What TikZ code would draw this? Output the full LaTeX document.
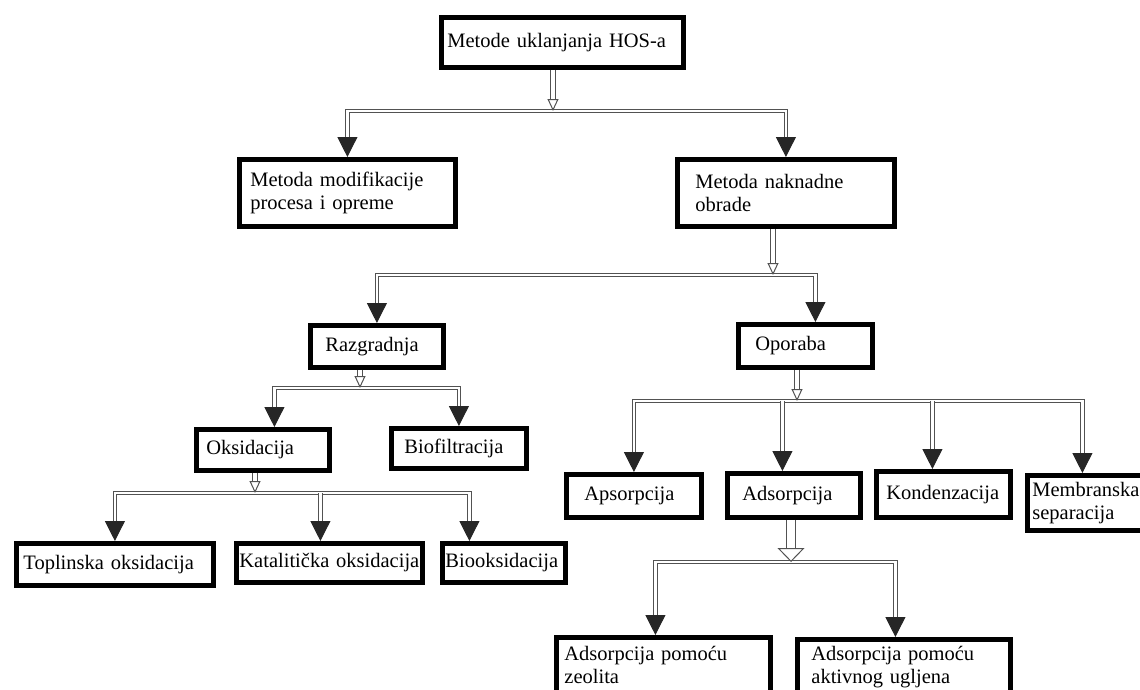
\documentclass[tikz,border=0pt]{standalone}
\usepackage{fontspec}
\setmainfont{Liberation Serif}
\usetikzlibrary{positioning,arrows.meta}

\tikzset{
  box/.style={draw,line width=4.8pt,anchor=north west,align=left,inner ysep=0pt,font=\fontsize{20.5}{23}\selectfont},
  link/.style={draw=black!68,double=white,double distance=2.4pt,line width=1pt},
  drop/.style={link,-{Triangle[length=20pt,width=20pt,color=black!85]}},
  ends/.style={link,{Triangle[length=20pt,width=20pt,color=black!85]}-{Triangle[length=20pt,width=20pt,color=black!85]}},
  hollow/.style={link,double distance=4pt,-{Triangle[open,length=12pt,width=11pt]}},
}

\begin{document}
\begin{tikzpicture}[x=1pt,y=-1pt]
    \useasboundingbox (0,0) rectangle (1140,689);
    \clip (0,0) rectangle (1140,689);

    % boxes
    \node[box,text width=230pt,inner xsep=6pt,minimum height=50pt] (hos) at (439,15) {Metode uklanjanja HOS-a};
    \node[box,text width=194pt,inner xsep=11pt,minimum height=67pt] (mod) at (237,157) {Metoda modifikacije\\procesa i opreme};
    \node[box,text width=181pt,inner xsep=18pt,minimum height=67pt] (nak) at (675,157) {Metoda naknadne\\obrade};
    \node[box,text width=103pt,inner xsep=15pt,minimum height=42pt] (raz) at (308,323) {Razgradnja};
    \node[box,text width=100pt,inner xsep=17pt,minimum height=43pt] (opo) at (736,322) {Oporaba};
    \node[box,text width=113pt,inner xsep=10pt,minimum height=41pt] (oks) at (194,427) {Oksidacija};
    \node[box,text width=109pt,inner xsep=13pt,minimum height=40pt] (bio) at (389,426) {Biofiltracija};
    \node[box,text width=183pt,inner xsep=7pt,minimum height=42pt] (tok) at (14,541) {Toplinska oksidacija};
    \node[box,text width=180pt,inner xsep=3pt,minimum height=39pt] (kat) at (234,541) {Katalitička oksidacija};
    \node[box,text width=117pt,inner xsep=3pt,minimum height=39pt] (bok) at (440,541) {Biooksidacija};
    \node[box,text width=99pt,inner xsep=18pt,minimum height=43pt] (aps) at (564,472) {Apsorpcija};
    \node[box,text width=103pt,inner xsep=15pt,minimum height=44pt] (ads) at (725,471) {Adsorpcija};
    \node[box,text width=114pt,inner xsep=10pt,minimum height=46pt] (kon) at (874,469) {Kondenzacija};
    \node[box,text width=113pt,inner xsep=5pt,minimum height=55pt] (mem) at (1025,473) {Membranska\\separacija};
    \node[box,text width=198pt,inner xsep=8pt,minimum height=56pt] (zeo) at (554,635) {Adsorpcija pomoću\\zeolita};
    \node[box,text width=185pt,inner xsep=14pt,minimum height=56pt] (akt) at (795,637) {Adsorpcija pomoću\\aktivnog ugljena};

    % junctions
    \coordinate (b1) at (553,111);
    \coordinate (b2) at (773,275);
    \coordinate (b3) at (360,388);
    \coordinate (b4) at (255,493);
    \coordinate (b5) at (797,401);
    \coordinate (b6) at (791,562);
    \coordinate (opo-in) at ([xshift=10pt]opo.north);
    \coordinate (oks-in) at ([xshift=11.5pt]oks.north);
    \coordinate (kat-in) at ([xshift=-9pt]kat.north);
    \coordinate (bok-in) at ([xshift=-34.5pt]bok.north);
    \coordinate (ads-in) at ([xshift=-11.5pt]ads.north);
    \coordinate (kon-in) at ([xshift=-11pt]kon.north);
    \coordinate (mem-in) at ([xshift=-6.5pt]mem.north);
    \coordinate (zeo-in) at ([xshift=-8pt]zeo.north);
    \coordinate (akt-in) at ([xshift=-8.5pt]akt.north);

    % connectors
    \draw[ends] (mod.north) -- (mod.north |- b1) -- (nak.north |- b1) -- (nak.north);
    \draw[hollow] (hos.south -| b1) -- (b1);

    \draw[ends] (raz.north) -- (raz.north |- b2) -- (opo-in |- b2) -- (opo-in);
    \draw[hollow] (nak.south -| b2) -- (b2);

    \draw[ends] (oks-in) -- (oks-in |- b3) -- (bio.north |- b3) -- (bio.north);
    \draw[hollow] (raz.south -| b3) -- (b3);

    \draw[ends] (tok.north) -- (tok.north |- b4) -- (bok-in |- b4) -- (bok-in);
    \draw[drop] (kat-in |- b4) -- (kat-in);
    \draw[hollow] (oks.south -| b4) -- (b4);

    \draw[ends] (aps.north) -- (aps.north |- b5) -- (mem-in |- b5) -- (mem-in);
    \draw[drop] (ads-in |- b5) -- (ads-in);
    \draw[drop] (kon-in |- b5) -- (kon-in);
    \draw[hollow] (opo.south -| b5) -- (b5);

    \draw[ends] (zeo-in) -- (zeo-in |- b6) -- (akt-in |- b6) -- (akt-in);
    \draw[hollow,double distance=7.5pt,-{Triangle[open,length=14pt,width=27pt]}] (ads.south -| b6) -- (b6);
\end{tikzpicture}
\end{document}
